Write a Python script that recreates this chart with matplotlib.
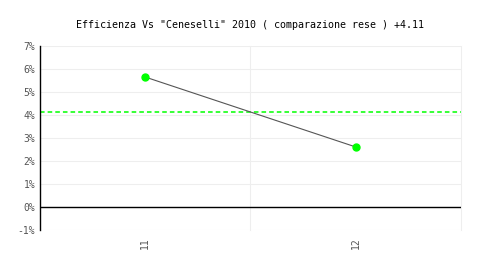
import matplotlib
matplotlib.use("Agg")
import matplotlib.pyplot as plt
from matplotlib.ticker import FuncFormatter

# Data
categories = ["11", "12"]
values = [5.65, 2.61]
reference = 4.11
title = 'Efficienza Vs "Ceneselli" 2010 ( comparazione rese ) +4.11'

plt.rcParams["font.family"] = ["DejaVu Sans Mono"]

fig = plt.figure(figsize=(5, 2.8), dpi=100)
ax = fig.add_axes([0.08, 0.1786, 0.842, 0.6571])

xs = [i + 0.5 for i in range(len(categories))]
ax.plot(xs, values, color="#555555", linewidth=0.8, zorder=3)
ax.plot(xs, values, linestyle="none", marker="o", markersize=5,
        color="#00ff00", zorder=4)
ax.axhline(reference, color="#00ff00", linestyle=(0, (3, 2)), linewidth=1.1, zorder=2)
ax.axhline(0, color="black", linewidth=1.0, zorder=2)

ax.set_xlim(0, len(categories))
ax.set_ylim(-1, 7)
ax.set_yticks(range(-1, 8))
ax.yaxis.set_major_formatter(FuncFormatter(lambda v, _: f"{v:.0f}%"))
ax.set_xticks(xs)
ax.set_xticklabels(categories, rotation=90)

# category separators (light vertical grid)
for b in range(1, len(categories) + 1):
    ax.axvline(b, color="#eeeeee", linewidth=0.8, zorder=0, clip_on=False)

ax.grid(True, which="major", axis="y", color="#eeeeee", linewidth=0.8)
ax.set_axisbelow(True)

for side in ("top", "right", "bottom"):
    ax.spines[side].set_visible(False)
ax.spines["left"].set_color("black")
ax.spines["left"].set_linewidth(1.0)

ax.tick_params(axis="both", which="both", length=0, labelsize=7, labelcolor="#555555")
ax.tick_params(axis="x", pad=5)

fig.suptitle(title, y=0.93, fontsize=7.2)

fig.savefig("out.png", dpi=100)
